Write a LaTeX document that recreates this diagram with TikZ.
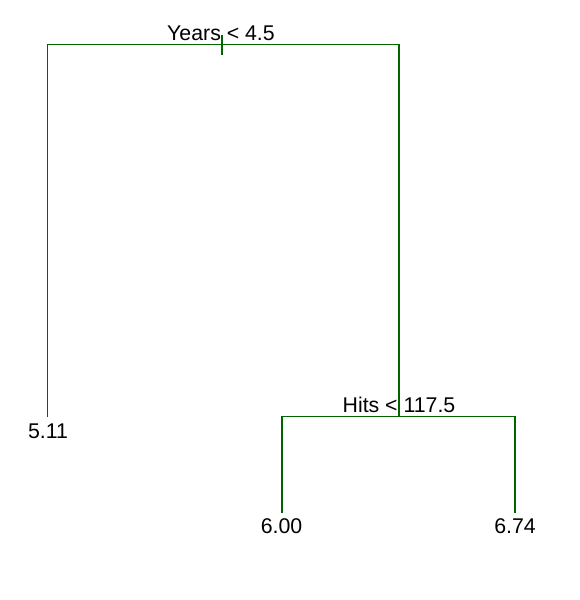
\documentclass[tikz,border=0pt]{standalone}
\usepackage{fontspec}
\setmainfont{Liberation Sans}
\begin{document}
\begin{tikzpicture}[x=1pt,y=-1pt,
  edge/.style={draw={rgb,255:red,0;green,100;blue,0},line width=1.15pt},
  lbl/.style={font=\fontsize{21.3}{25}\selectfont,inner sep=0pt,anchor=base}]
\useasboundingbox (0,0) rectangle (579,600);
% split nodes
\coordinate (r) at (222,44.5);
\coordinate (rl) at (47.5,44.5);
\coordinate (rr) at (399,44.5);
\coordinate (s) at (399,416.5);
\coordinate (sl) at (282,416.5);
\coordinate (sr) at (515,416.5);
\coordinate (l1) at (47.5,417);
\coordinate (l2) at (282,513);
\coordinate (l3) at (515,513);
\coordinate (t1) at (222,35);
\coordinate (t2) at (222,55);
% edges
\draw[edge] (l1) -- (rl) -- (rr) -- (s);
\draw[edge] (l2) -- (sl) -- (sr) -- (l3);
\draw[edge] (t1) -- (t2);
% labels
\node[lbl] (ry) at (221,40) {Years < 4.5};
\node[lbl] (sh) at (399,412) {Hits < 117.5};
\node[lbl] (v1) at (48,438) {5.11};
\node[lbl] (v2) at (281.5,533.5) {6.00};
\node[lbl] (v3) at (515,533.5) {6.74};
\end{tikzpicture}
\end{document}
